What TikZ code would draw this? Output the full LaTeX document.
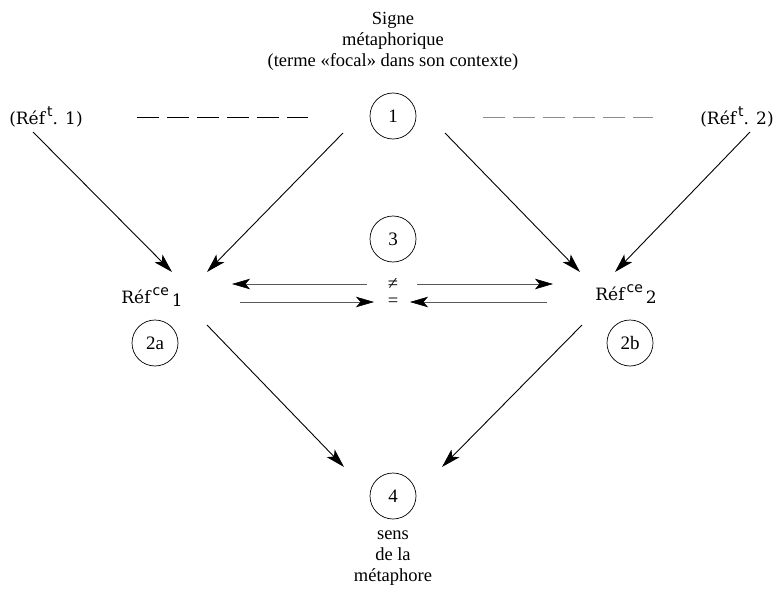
\documentclass[tikz,border=0pt]{standalone}
\usepackage{fontspec}
\setmainfont{Liberation Serif}
\newfontfamily\reffont{DejaVu Serif}
\newfontfamily\supfont{DejaVu Sans}
\usetikzlibrary{arrows.meta}
% raised small sans label used in "Réf^t" and "Réf^ce"
\newcommand\rsup[1]{\hspace{0.12em}\raisebox{0.45em}{\supfont\fontsize{14}{14}\selectfont #1}}
\begin{document}
\begin{tikzpicture}[x=1pt,y=-1pt,
  every node/.style={font=\fontsize{18.5}{21}\selectfont, inner sep=0pt},
  txt/.style={align=center},
  reflabel/.style={font=\reffont\fontsize{17}{21}\selectfont},
  num/.style={circle, draw, line width=0.7pt, minimum size=46pt,
              font=\fontsize{19}{21}\selectfont},
  arr/.style={line width=0.9pt, -{Stealth[length=19pt,width=11pt,inset=4.5pt]}},
  cmp/.style={line width=0.6pt, black!65,
              -{Stealth[length=18pt,width=10.5pt,inset=4.5pt,black]}},
  dashline/.style={line width=0.8pt, dash pattern=on 22pt off 8pt}
]
\useasboundingbox (0,0) rectangle (777,594);

% --- texts ---
\node[txt] (title) at (393,41) {Signe\\métaphorique\\(terme «focal» dans son contexte)};
\node[txt] (sense) at (393,558) {sens\\de la\\métaphore};
\node[reflabel] (rt1) at (46,117) {(Réf\rsup{t}. 1)};
\node[reflabel] (rt2) at (737,117) {(Réf\rsup{t}. 2)};
\node[reflabel] (rce1) at (152,297) {Réf\rsup{ce}\,\raisebox{-0.2em}{1}};
\node[reflabel] (rce2) at (626,294) {Réf\rsup{ce}\,\raisebox{-0.2em}{2}};

% --- numbered circles ---
\node[num] (c1) at (393,116) {1};
\node[num] (c3) at (393,239) {3};
\node[num] (c2a) at (155,343) {2a};
\node[num] (c2b) at (630,343) {2b};
\node[num] (c4) at (393,496) {4};

% --- comparison signs ---
\node (ne) at (393,284) {≠};
\node (eq) at (393,302) {=};

% --- end points of the connectors ---
\coordinate (d1) at (137,117); \coordinate (d2) at (308,117);
\coordinate (d3) at (483,117); \coordinate (d4) at (653,117);
\coordinate (s1) at (33,132);  \coordinate (e1) at (172,272);
\coordinate (s2) at (343,133); \coordinate (e2) at (207,272);
\coordinate (s3) at (445,133); \coordinate (e3) at (580,272);
\coordinate (s4) at (750,132); \coordinate (e4) at (615,272);
\coordinate (s5) at (207,325); \coordinate (e5) at (344,467);
\coordinate (s6) at (582,325); \coordinate (e6) at (442,467);
\coordinate (nl) at (367,284); \coordinate (nlt) at (232,284);
\coordinate (nr) at (417,284); \coordinate (nrt) at (553,284);
\coordinate (ql) at (240,302); \coordinate (qlt) at (374,302);
\coordinate (qr) at (547,302); \coordinate (qrt) at (410,302);

% --- dashed links beside the sign ---
\draw[dashline] (d1) -- (d2);
\draw[dashline, black!45] (d3) -- (d4);

% --- arrows into the two referents ---
\draw[arr] (s1) -- (e1);
\draw[arr] (s2) -- (e2);
\draw[arr] (s3) -- (e3);
\draw[arr] (s4) -- (e4);

% --- arrows into the meaning ---
\draw[arr] (s5) -- (e5);
\draw[arr] (s6) -- (e6);

% --- comparison arrows ---
\draw[cmp] (nl) -- (nlt);
\draw[cmp] (nr) -- (nrt);
\draw[cmp] (ql) -- (qlt);
\draw[cmp] (qr) -- (qrt);
\end{tikzpicture}
\end{document}
